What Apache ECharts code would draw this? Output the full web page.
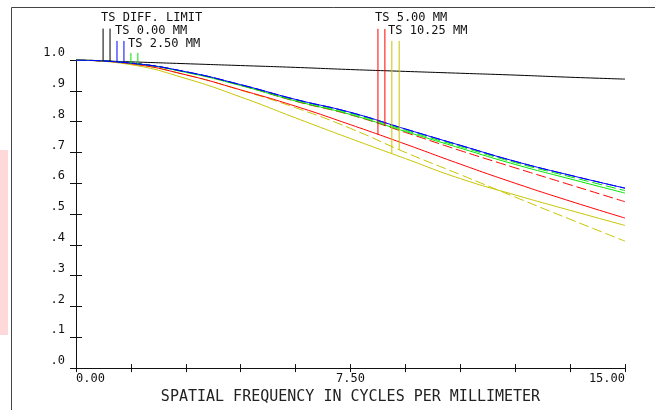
<!DOCTYPE html>
<html><head><meta charset="utf-8">
<script src="https://cdn.jsdelivr.net/npm/echarts@6/dist/echarts.min.js"></script>
<style>html,body{margin:0;padding:0;background:#fff}#c{width:655px;height:410px}</style>
</head><body><div id="c"></div>
<script>
// spatial frequency (cycles/mm)
const freq = [0, 1.5, 3, 4.5, 6, 7.5, 9, 10.5, 12, 13.5, 15];
// MTF values
const diffLimit = [1.0, 0.994, 0.988, 0.982, 0.976, 0.969, 0.963, 0.957, 0.951, 0.944, 0.938];
const f000T = [1.0, 0.990, 0.962, 0.920, 0.872, 0.830, 0.776, 0.723, 0.671, 0.626, 0.584];
const f000S = [1.0, 0.990, 0.962, 0.920, 0.872, 0.830, 0.776, 0.723, 0.671, 0.626, 0.584];
const f250T = [1.0, 0.990, 0.960, 0.917, 0.867, 0.823, 0.768, 0.714, 0.661, 0.614, 0.568];
const f250S = [1.0, 0.990, 0.961, 0.919, 0.870, 0.827, 0.772, 0.719, 0.667, 0.621, 0.576];
const f500T = [1.0, 0.988, 0.952, 0.903, 0.850, 0.790, 0.727, 0.662, 0.600, 0.542, 0.487];
const f500S = [1.0, 0.990, 0.961, 0.918, 0.866, 0.822, 0.765, 0.706, 0.650, 0.595, 0.540];
const f1025T = [1.0, 0.985, 0.940, 0.880, 0.812, 0.745, 0.680, 0.615, 0.562, 0.512, 0.463];
const f1025S = [1.0, 0.988, 0.952, 0.902, 0.845, 0.778, 0.700, 0.628, 0.555, 0.483, 0.412];
// y tick labels
const yTickLabels = ['.0', '.1', '.2', '.3', '.4', '.5', '.6', '.7', '.8', '.9', '1.0'];
const xTickLabels = {0: '0.00', 7.5: '7.50', 15: '15.00'};
// legend entries: label, marker frequencies (T, S), marker top value
const legendNames = ['TS DIFF. LIMIT', 'TS 0.00 MM', 'TS 2.50 MM', 'TS 5.00 MM', 'TS 10.25 MM'];
const legendMarkerFreq = [[0.74, 0.93], [1.12, 1.31], [1.50, 1.69], [8.25, 8.44], [8.63, 8.83]];
const legendMarkerTop = [1.102, 1.062, 1.023, 1.101, 1.062];

const cBlack = '#000000', cBlue = '#0000ff', cGreen = '#00e600', cRed = '#ff0000', cYel = '#c8c400';
const legendColors = [cBlack, cBlue, cGreen, cRed, cYel];
const legendCurves = [[diffLimit, diffLimit], [f000T, f000S], [f250T, f250S], [f500T, f500S], [f1025T, f1025S]];

function pairs(arr) { return freq.map((f, i) => [f, arr[i]]); }
function interp(arr, x) {
  for (let i = 0; i < freq.length - 1; i++) {
    if (x >= freq[i] && x <= freq[i + 1]) {
      const t = (x - freq[i]) / (freq[i + 1] - freq[i]);
      return arr[i] + t * (arr[i + 1] - arr[i]);
    }
  }
  return arr[arr.length - 1];
}
const FONT = '"DejaVu Sans Mono", "Liberation Mono", monospace';

function curve(data, color, dashed, z) {
  return {
    type: 'line', data: pairs(data), symbol: 'none', smooth: 0.5, silent: true, z: z,
    lineStyle: { color: color, width: 1, type: dashed ? [10, 4] : 'solid' }
  };
}
const series = [
  curve(diffLimit, cBlack, false, 2),
  curve(f1025T, cYel, false, 3), curve(f1025S, cYel, true, 3),
  curve(f500T, cRed, false, 4), curve(f500S, cRed, true, 4),
  curve(f250T, cGreen, false, 5), curve(f250S, cGreen, true, 5),
  curve(f000T, cBlue, false, 6), curve(f000S, cBlue, true, 6)
];
legendMarkerFreq.forEach((fs, k) => {
  fs.forEach((f, j) => {
    series.push({
      type: 'line', symbol: 'none', silent: true, clip: false, z: 7,
      data: [[f, legendMarkerTop[k]], [f, interp(legendCurves[k][j], f)]],
      lineStyle: { color: legendColors[k], width: 1 }
    });
  });
});

const legendPos = [[101, 19], [115, 32], [128, 45], [375, 19], [388, 32]];
const graphics = [
  { type: 'rect', shape: { x: 0, y: 150, width: 8, height: 185 }, style: { fill: '#ffd9d9' }, silent: true },
  { type: 'line', shape: { x1: 11.5, y1: 7.5, x2: 11.5, y2: 410 }, style: { stroke: '#444', lineWidth: 1 } },
  { type: 'line', shape: { x1: 11.5, y1: 7.5, x2: 655, y2: 7.5 }, style: { stroke: '#444', lineWidth: 1 } }
];
legendNames.forEach((n, k) => {
  graphics.push({ type: 'text', left: legendPos[k][0], top: legendPos[k][1] - 7,
    style: { text: n, font: '12px ' + FONT, fill: '#111' } });
});

const axisCommonX = { type: 'value', min: 0, max: 15, interval: 1.5,
  axisLine: { show: true, lineStyle: { color: '#111', width: 1 } },
  axisTick: { show: true, inside: true, length: 4, lineStyle: { color: '#111' } },
  splitLine: { show: false } };
const axisCommonY = { type: 'value', min: 0, max: 1, interval: 0.1,
  axisLine: { show: true, lineStyle: { color: '#111', width: 1 } },
  axisTick: { show: true, inside: true, length: 6, lineStyle: { color: '#111' } },
  splitLine: { show: false } };

const chart = echarts.init(document.getElementById('c'), null, { renderer: 'canvas' });
chart.setOption({
  animation: false,
  backgroundColor: '#fff',
  grid: { left: 76, right: 30, top: 60, bottom: 37, containLabel: false },
  xAxis: [
    Object.assign({}, axisCommonX, { position: 'bottom',
      name: 'SPATIAL FREQUENCY IN CYCLES PER MILLIMETER', nameLocation: 'middle', nameGap: 19,
      nameTextStyle: { fontFamily: FONT, fontSize: 15, color: '#222' },
      axisLabel: { show: true, margin: 5, fontFamily: FONT, fontSize: 12, color: '#111',
        alignMinLabel: 'left', alignMaxLabel: 'right',
        formatter: v => (xTickLabels[v] !== undefined ? xTickLabels[v] : '') } }),
    Object.assign({}, axisCommonX, { position: 'top', axisLabel: { show: false } })
  ],
  yAxis: [
    Object.assign({}, axisCommonY, { position: 'left',
      axisLabel: { show: true, margin: 11, fontFamily: FONT, fontSize: 12, color: '#111',
        verticalAlign: 'bottom', padding: [0, 0, 1, 0], formatter: v => yTickLabels[Math.round(v * 10)] } }),
    Object.assign({}, axisCommonY, { position: 'right', axisLabel: { show: false } })
  ],
  series: series,
  graphic: graphics
});
</script></body></html>
